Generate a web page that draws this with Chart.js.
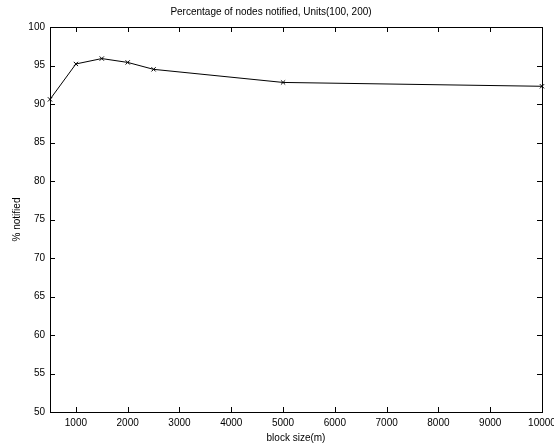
<!DOCTYPE html>
<html>
<head>
<meta charset="utf-8">
<script src="https://cdn.jsdelivr.net/npm/chart.js@4"></script>
<style>
  html, body { margin: 0; padding: 0; background: #fff; }
  #wrap { width: 554px; height: 445px; }
</style>
</head>
<body>
<div id="wrap"><canvas id="chart" width="554" height="445"></canvas></div>
<script>
// values
const blockSize = [500, 1000, 1500, 2000, 2500, 5000, 10000];
const notified = [90.6, 95.2, 95.9, 95.4, 94.5, 92.8, 92.3];
const xTicks = [1000, 2000, 3000, 4000, 5000, 6000, 7000, 8000, 9000, 10000];
const yTicks = [50, 55, 60, 65, 70, 75, 80, 85, 90, 95, 100];

// matlab style box with inward ticks on all four sides
const boxPlugin = {
    id: 'box',
    afterDraw(chart) {
        const ctx = chart.ctx;
        const a = chart.chartArea;
        const xs = chart.scales.x, ys = chart.scales.y;
        ctx.save();
        ctx.strokeStyle = '#000';
        ctx.lineWidth = 1;
        ctx.strokeRect(a.left + 0.5, a.top + 0.5, a.right - a.left, a.bottom - a.top);
        ctx.beginPath();
        xTicks.forEach(v => {
            const x = Math.round(xs.getPixelForValue(v)) + 0.5;
            ctx.moveTo(x, a.bottom); ctx.lineTo(x, a.bottom - 5);
            ctx.moveTo(x, a.top); ctx.lineTo(x, a.top + 5);
        });
        yTicks.forEach(v => {
            const y = Math.round(ys.getPixelForValue(v)) + 0.5;
            ctx.moveTo(a.left, y); ctx.lineTo(a.left + 5, y);
            ctx.moveTo(a.right, y); ctx.lineTo(a.right - 5, y);
        });
        ctx.stroke();
        ctx.restore();
    }
};

const ctx = document.getElementById('chart').getContext('2d');
new Chart(ctx, {
    type: 'scatter',
    data: {
        datasets: [{
            data: blockSize.map((b, i) => ({x: b, y: notified[i]})),
            showLine: true,
            clip: false,
            borderColor: '#000',
            backgroundColor: '#000',
            borderWidth: 1,
            pointStyle: 'crossRot',
            pointRadius: 3,
            pointBorderWidth: 1
        }]
    },
    options: {
        responsive: false,
        animation: false,
        layout: {padding: {right: 12, left: 0, bottom: 0}},
        plugins: {
            legend: {display: false},
            tooltip: {enabled: false},
            title: {
                display: true,
                text: 'Percentage of nodes notified, Units(100, 200)',
                color: '#000',
                font: {family: 'Liberation Sans', size: 10, weight: 'normal', lineHeight: 1.2},
                padding: {top: 6, bottom: 9}
            }
        },
        scales: {
            x: {
                type: 'linear',
                min: 500,
                max: 10000,
                afterBuildTicks: s => { s.ticks = xTicks.map(v => ({value: v})); },
                afterFit: s => { s.height = 33; s.paddingLeft = 0; s.paddingRight = 0; },
                grid: {display: false, drawTicks: false},
                border: {display: false},
                ticks: {color: '#000', padding: 5, maxRotation: 0, autoSkip: false,
                        callback: v => String(v),
                        font: {family: 'Liberation Sans', size: 10}},
                title: {display: true, text: 'block size(m)', color: '#000', padding: {top: 0, bottom: 1},
                        font: {family: 'Liberation Sans', size: 10}}
            },
            y: {
                min: 50,
                max: 100,
                afterBuildTicks: s => { s.ticks = yTicks.map(v => ({value: v})); },
                afterFit: s => { s.width = 50; },
                grid: {display: false, drawTicks: false},
                border: {display: false},
                ticks: {color: '#000', padding: 5,
                        font: {family: 'Liberation Sans', size: 10}},
                title: {display: true, text: '% notified', color: '#000', padding: {top: 11, bottom: 0},
                        font: {family: 'Liberation Sans', size: 10}}
            }
        }
    },
    plugins: [boxPlugin]
});
</script>
</body>
</html>
